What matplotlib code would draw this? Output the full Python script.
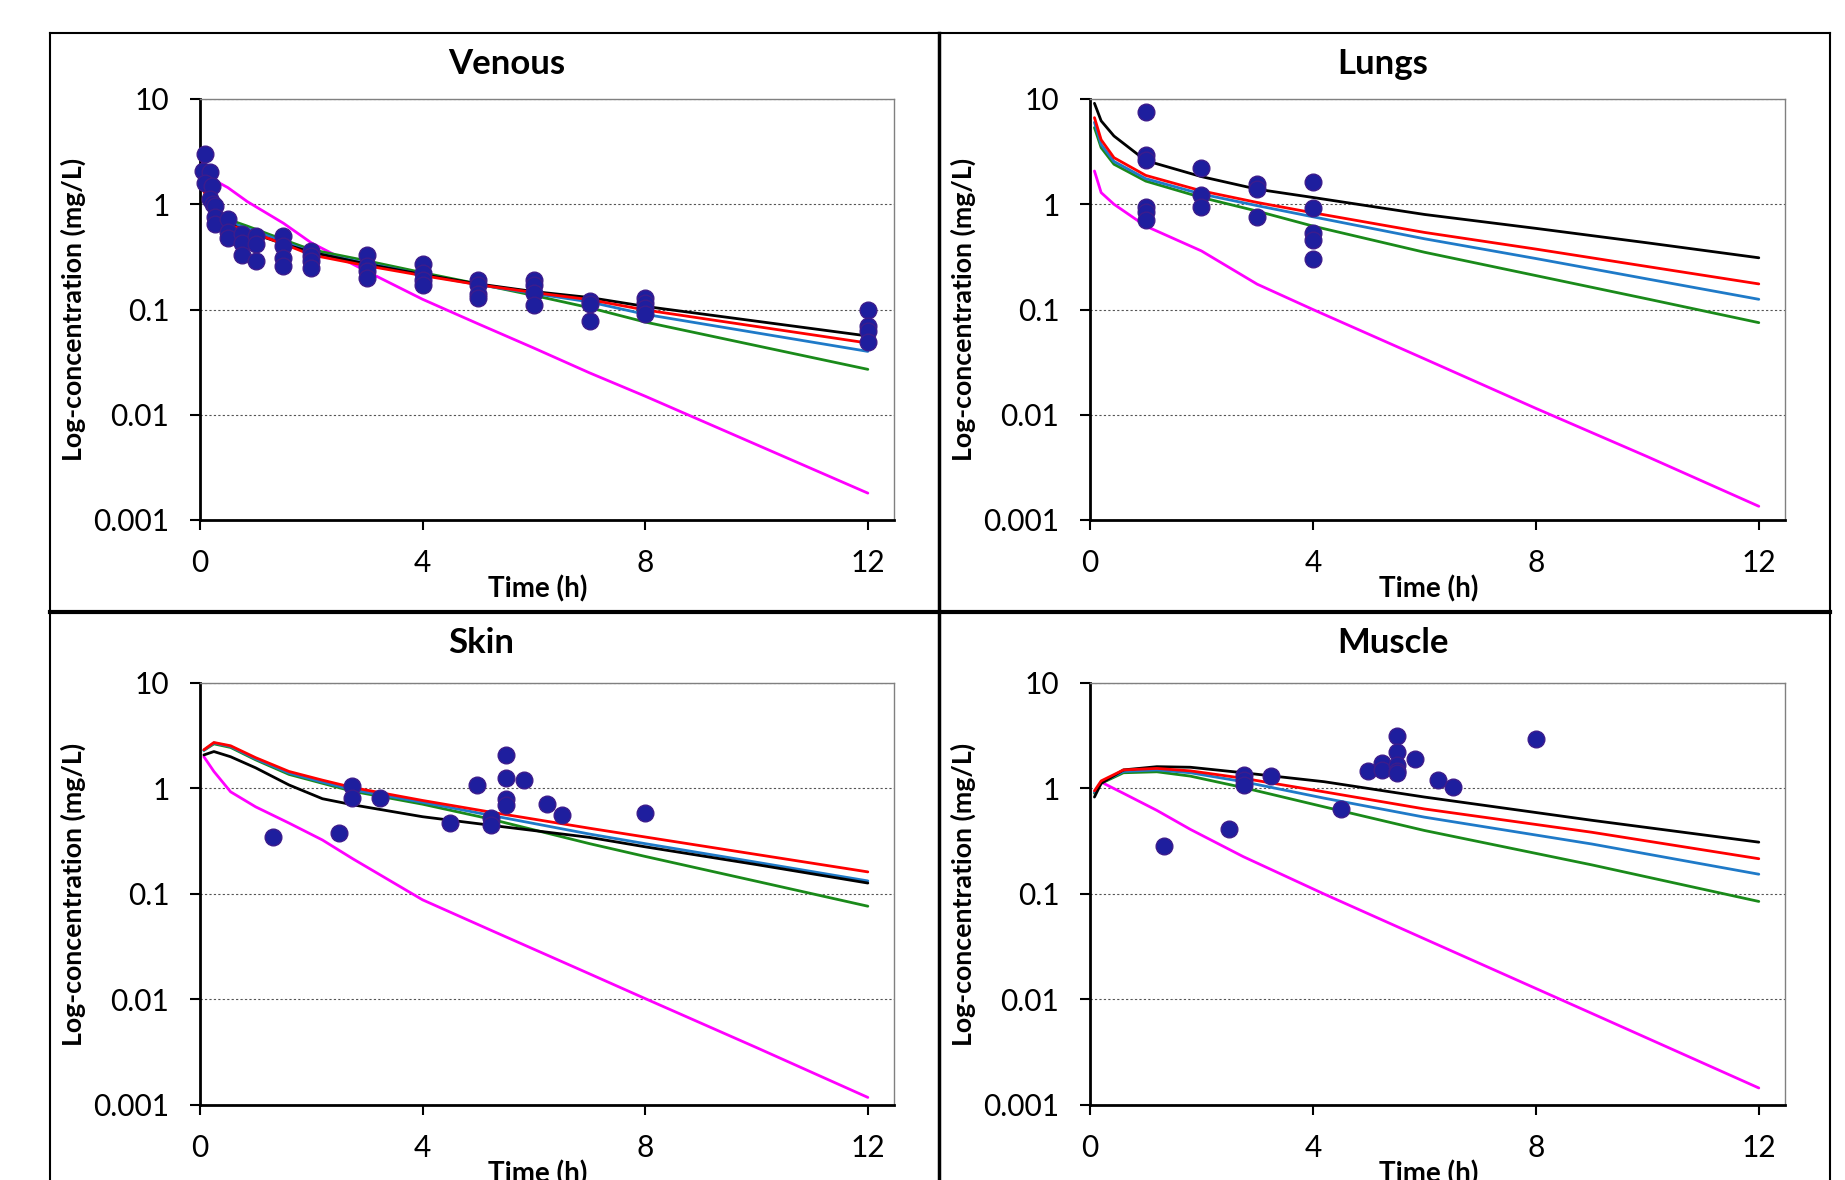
import numpy as np
import matplotlib
matplotlib.use("Agg")
import matplotlib.pyplot as plt
from matplotlib.lines import Line2D

plt.rcParams['font.family'] = ['Lato', 'DejaVu Sans']

# ---------------- data ----------------
titles = ["Venous", "Lungs", "Skin", "Muscle"]
x_ticks = [0, 4, 8, 12]
y_ticks = [0.001, 0.01, 0.1, 1, 10]
y_tick_labels = ["0.001", "0.01", "0.1", "1", "10"]
x_label = "Time (h)"
y_label = "Log-concentration (mg/L)"

model_names = ["magenta", "green", "blue", "black", "red"]

# Venous
venous_t = [0.05, 0.25, 0.5, 0.85, 1.5, 2, 3, 4, 5, 6, 7, 8, 12]
venous_black = [1.5, 0.85, 0.66, 0.55, 0.42, 0.35, 0.27, 0.215, 0.175, 0.148, 0.13, 0.107, 0.056]
venous_red = [1.4, 0.8, 0.64, 0.56, 0.42, 0.33, 0.26, 0.21, 0.172, 0.145, 0.124, 0.099, 0.048]
venous_blue = [1.5, 0.85, 0.68, 0.59, 0.44, 0.35, 0.275, 0.215, 0.172, 0.142, 0.118, 0.090, 0.040]
venous_green = [1.6, 0.9, 0.72, 0.62, 0.46, 0.37, 0.29, 0.224, 0.175, 0.136, 0.104, 0.076, 0.027]
venous_magenta = [2.5, 1.7, 1.44, 1.06, 0.66, 0.43, 0.23, 0.125, 0.073, 0.043, 0.025, 0.015, 0.0018]
venous_obs_t = [0.09, 0.06, 0.18, 0.09, 0.21, 0.18, 0.24, 0.27, 0.27, 0.27,
                0.5, 0.5, 0.5, 0.75, 0.75, 0.75, 1, 1, 1,
                1.5, 1.5, 1.5, 1.5, 2, 2, 2, 2, 3, 3, 3, 3, 4, 4, 4, 4,
                5, 5, 5, 5, 6, 6, 6, 6, 7, 7, 7, 8, 8, 8, 8, 12, 12, 12, 12]
venous_obs_c = [3.0, 2.07, 2.03, 1.6, 1.5, 1.12, 1.0, 0.96, 0.75, 0.65,
                0.72, 0.54, 0.48, 0.52, 0.43, 0.33, 0.50, 0.42, 0.29,
                0.50, 0.40, 0.31, 0.26, 0.36, 0.32, 0.29, 0.25, 0.33, 0.26, 0.23, 0.20,
                0.27, 0.22, 0.19, 0.17, 0.19, 0.17, 0.14, 0.13, 0.19, 0.17, 0.145, 0.11,
                0.12, 0.112, 0.078, 0.13, 0.116, 0.104, 0.09, 0.10, 0.069, 0.063, 0.049]

# Lungs
lungs_t = [0.08, 0.2, 0.43, 1, 2, 3, 4, 6, 8, 10, 12]
lungs_black = [9.1, 6.2, 4.45, 2.6, 1.83, 1.39, 1.16, 0.80, 0.59, 0.43, 0.31]
lungs_red = [6.65, 4.1, 2.77, 1.88, 1.34, 1.04, 0.83, 0.54, 0.375, 0.256, 0.175]
lungs_blue = [6.0, 3.7, 2.55, 1.75, 1.25, 0.97, 0.76, 0.47, 0.305, 0.195, 0.125]
lungs_green = [5.35, 3.45, 2.4, 1.66, 1.16, 0.86, 0.62, 0.35, 0.21, 0.126, 0.075]
lungs_magenta = [2.07, 1.29, 1.0, 0.62, 0.36, 0.174, 0.1, 0.034, 0.0115, 0.004, 0.00135]
lungs_obs_t = [1, 1, 1, 1, 1, 1, 2, 2, 2, 3, 3, 3, 4, 4, 4, 4, 4]
lungs_obs_c = [7.6, 2.94, 2.63, 0.95, 0.85, 0.71, 2.21, 1.22, 0.95, 1.57, 1.39, 0.76,
               1.63, 0.92, 0.53, 0.46, 0.30]

# Skin
skin_t = [0.07, 0.25, 0.55, 1.0, 1.6, 2.2, 2.75, 4, 5.2, 7, 8, 10, 12]
skin_black = [2.08, 2.24, 2.0, 1.57, 1.08, 0.80, 0.70, 0.54, 0.45, 0.344, 0.28, 0.19, 0.127]
skin_red = [2.33, 2.73, 2.54, 1.96, 1.45, 1.2, 1.02, 0.77, 0.60, 0.42, 0.347, 0.237, 0.162]
skin_blue = [2.3, 2.7, 2.5, 1.91, 1.40, 1.15, 0.97, 0.74, 0.56, 0.37, 0.30, 0.20, 0.133]
skin_green = [2.3, 2.65, 2.45, 1.87, 1.36, 1.12, 0.94, 0.71, 0.516, 0.30, 0.227, 0.132, 0.0766]
skin_magenta = [2.0, 1.45, 0.93, 0.67, 0.47, 0.325, 0.215, 0.088, 0.046, 0.0175, 0.0102, 0.0035, 0.00118]
skin_obs_t = [1.32, 2.5, 2.74, 2.74, 3.23, 4.5, 4.98, 5.23, 5.23, 5.5, 5.5, 5.5, 5.5,
              5.82, 6.24, 6.5, 8]
skin_obs_c = [0.35, 0.38, 1.05, 0.81, 0.82, 0.47, 1.09, 0.53, 0.455, 2.08, 1.27, 0.80, 0.70,
              1.2, 0.71, 0.555, 0.58]

# Muscle
muscle_t = [0.08, 0.2, 0.6, 1.2, 1.8, 2.75, 4.2, 6, 9, 12]
muscle_black = [0.83, 1.12, 1.5, 1.61, 1.59, 1.41, 1.16, 0.83, 0.50, 0.31]
muscle_red = [0.95, 1.18, 1.5, 1.55, 1.47, 1.25, 0.93, 0.64, 0.385, 0.216]
muscle_blue = [0.92, 1.14, 1.45, 1.5, 1.41, 1.16, 0.81, 0.535, 0.298, 0.154]
muscle_green = [0.9, 1.12, 1.41, 1.44, 1.31, 1.02, 0.67, 0.40, 0.189, 0.085]
muscle_magenta = [np.nan, 1.15, 0.9, 0.62, 0.41, 0.226, 0.1, 0.0376, 0.0074, 0.00145]
muscle_obs_t = [1.32, 2.49, 2.76, 2.76, 2.76, 3.24, 4.51, 4.99, 5.24, 5.24,
                5.5, 5.5, 5.5, 5.5, 5.5, 5.83, 6.25, 6.51, 8.01]
muscle_obs_c = [0.286, 0.41, 1.34, 1.2, 1.09, 1.31, 0.644, 1.47, 1.76, 1.5,
                3.17, 2.21, 1.67, 1.47, 1.41, 1.9, 1.2, 1.04, 2.96]

# ---------------- styles ----------------
colors = {"magenta": "#FF00FF", "green": "#1A8A1A", "blue": "#1F7AC8",
          "black": "#000000", "red": "#FF0000"}

W, H = 1845, 1180
fig = plt.figure(figsize=(W / 100, H / 100), dpi=100)


def rect(l, t, r, b):
    return [l / W, 1 - b / H, (r - l) / W, (b - t) / H]


panels = [
    dict(title=titles[0], t=venous_t,
         models=dict(magenta=venous_magenta, green=venous_green, blue=venous_blue,
                     black=venous_black, red=venous_red),
         ot=venous_obs_t, oc=venous_obs_c,
         box=(200, 99, 894, 520), title_x=507, top=33),
    dict(title=titles[1], t=lungs_t,
         models=dict(magenta=lungs_magenta, green=lungs_green, blue=lungs_blue,
                     black=lungs_black, red=lungs_red),
         ot=lungs_obs_t, oc=lungs_obs_c,
         box=(1090, 99, 1785, 520), title_x=1383, top=33),
    dict(title=titles[2], t=skin_t,
         models=dict(magenta=skin_magenta, green=skin_green, blue=skin_blue,
                     black=skin_black, red=skin_red),
         ot=skin_obs_t, oc=skin_obs_c,
         box=(200, 683, 894, 1105), title_x=481, top=612),
    dict(title=titles[3], t=muscle_t,
         models=dict(magenta=muscle_magenta, green=muscle_green, blue=muscle_blue,
                     black=muscle_black, red=muscle_red),
         ot=muscle_obs_t, oc=muscle_obs_c,
         box=(1090, 683, 1785, 1105), title_x=1393, top=612),
]

for p in panels:
    l, t, r, b = p["box"]
    ax = fig.add_axes(rect(l, t, r, b))
    for name in model_names:
        ax.plot(p["t"], p["models"][name], color=colors[name], lw=2.0,
                solid_capstyle="round", zorder=3)
    ax.plot(p["ot"], p["oc"], linestyle="none", marker="o", ms=12,
            mfc="#1E1E9E", mec="#3C1C8C", mew=1.0, zorder=5, clip_on=False)
    ax.set_yscale("log")
    ax.set_ylim(0.001, 10)
    ax.set_xlim(0, 12.47)
    ax.set_yticks(y_ticks)
    ax.set_yticklabels(y_tick_labels)
    ax.yaxis.set_minor_locator(matplotlib.ticker.NullLocator())
    ax.set_xticks(x_ticks)
    ax.set_xticklabels([str(v) for v in x_ticks])
    ax.tick_params(axis="both", which="major", direction="out", length=7, width=1.5,
                   labelsize=21.5, color="black")
    ax.tick_params(axis="y", pad=15)
    ax.tick_params(axis="x", pad=14)
    for s in ("left", "bottom"):
        ax.spines[s].set_linewidth(2.0)
        ax.spines[s].set_color("black")
    for s in ("top", "right"):
        ax.spines[s].set_linewidth(1.0)
        ax.spines[s].set_color("#808080")
    ax.grid(axis="y", which="major", linestyle=(0, (2, 2)), color="#555555", lw=0.8)
    ax.set_axisbelow(True)

    fig.text(p["title_x"] / W, 1 - (p["top"] + 31) / H, p["title"], ha="center",
             va="center", fontsize=25, fontweight="bold")
    fig.text((((l + r) / 2) - 9) / W, 1 - (b + 69) / H, x_label, ha="center",
             va="center", fontsize=20, fontweight="bold")
    fig.text((l - 127) / W, 1 - ((t + b) / 2) / H, y_label, ha="center", va="center",
             rotation=90, fontsize=19.3, fontweight="bold")

# panel frames
for xs, ys, lw in [((50, 50), (33, 1180), 1.5), ((1830, 1830), (33, 1180), 1.5),
                   ((50, 1830), (33, 33), 1.5), ((939, 939), (33, 1180), 2.5),
                   ((50, 1830), (612, 612), 3.0)]:
    fig.add_artist(Line2D([x / W for x in xs], [1 - y / H for y in ys],
                          color="black", lw=lw, transform=fig.transFigure))

fig.savefig("out.png", dpi=100)
